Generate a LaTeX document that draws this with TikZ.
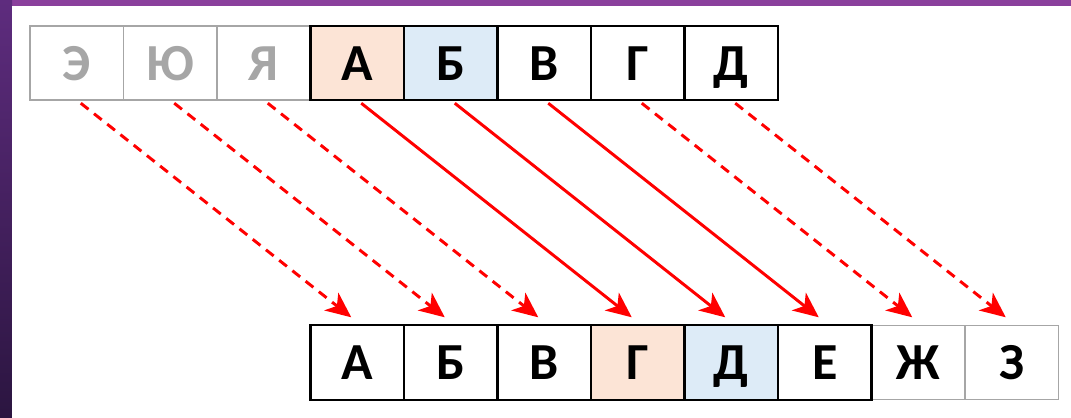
\documentclass[tikz,border=0pt]{standalone}
\usepackage{fontspec}
\setmainfont{Carlito}
\usetikzlibrary{arrows.meta}
\definecolor{cellpeach}{HTML}{FCE4D6}
\definecolor{cellblue}{HTML}{DDEBF7}
\definecolor{cellgray}{HTML}{A6A6A6}
\definecolor{bandtop}{HTML}{8A409C}
\definecolor{bandlefttop}{HTML}{5E2C7E}
\definecolor{bandleftbot}{HTML}{2B1540}

\begin{document}
\begin{tikzpicture}[
    cell/.style={draw=black, line width=1.5pt, minimum width=2.3375cm, minimum height=1.86cm,
                 inner sep=0pt, outer sep=0pt, text height=0.87cm, text depth=0pt,
                 font=\fontsize{37}{37}\selectfont\bfseries, fill=white},
    ghostcell/.style={cell, draw=cellgray, line width=1.1pt},
    shiftarrow/.style={-{Stealth[length=18pt, width=16pt, inset=5pt]}, draw=red, line width=2.1pt},
    wraparrow/.style={shiftarrow, dash pattern=on 7pt off 5pt}
]

%--------
% BACKGROUND: purple frame on top and left
%--------
\fill[bandtop] (0,0) rectangle (26.775,10.45);
\shade[top color=bandlefttop, bottom color=bandleftbot] (0,0) rectangle (0.3,10.45);
\fill[white] (0.3,0) rectangle (26.775,10.3);

%--------
% TOP ROW: source alphabet
%--------
\node[ghostcell, text=cellgray] (t1) at ( 1.919, 8.875) {Э};
\node[ghostcell, text=cellgray] (t2) at ( 4.256, 8.875) {Ю};
\node[ghostcell, text=cellgray] (t3) at ( 6.594, 8.875) {Я};
\node[cell, fill=cellpeach]     (t4) at ( 8.931, 8.875) {А};
\node[cell, fill=cellblue]      (t5) at (11.269, 8.875) {Б};
\node[cell]                     (t6) at (13.606, 8.875) {В};
\node[cell]                     (t7) at (15.944, 8.875) {Г};
\node[cell]                     (t8) at (18.281, 8.875) {Д};

%--------
% BOTTOM ROW: shifted alphabet (3 cells to the right)
%--------
\node[ghostcell]            (b7) at (22.956, 1.3875) {Ж};
\node[ghostcell]            (b8) at (25.294, 1.3875) {З};
\node[cell]                 (b1) at ( 8.931, 1.3875) {А};
\node[cell]                 (b2) at (11.269, 1.3875) {Б};
\node[cell]                 (b3) at (13.606, 1.3875) {В};
\node[cell, fill=cellpeach] (b4) at (15.944, 1.3875) {Г};
\node[cell, fill=cellblue]  (b5) at (18.281, 1.3875) {Д};
\node[cell]                 (b6) at (20.619, 1.3875) {Е};

%--------
% SHIFT ARROWS (solid inside the row, dashed for wrap-around)
%--------
\draw[wraparrow]  ([xshift=0.1cm, yshift=-0.075cm]t1.south) -- ([xshift=-0.15cm, yshift=0.2cm]b1.north);
\draw[wraparrow]  ([xshift=0.1cm, yshift=-0.075cm]t2.south) -- ([xshift=-0.15cm, yshift=0.2cm]b2.north);
\draw[wraparrow]  ([xshift=0.1cm, yshift=-0.075cm]t3.south) -- ([xshift=-0.15cm, yshift=0.2cm]b3.north);
\draw[shiftarrow] ([xshift=0.1cm, yshift=-0.075cm]t4.south) -- ([xshift=-0.15cm, yshift=0.2cm]b4.north);
\draw[shiftarrow] ([xshift=0.1cm, yshift=-0.075cm]t5.south) -- ([xshift=-0.15cm, yshift=0.2cm]b5.north);
\draw[shiftarrow] ([xshift=0.1cm, yshift=-0.075cm]t6.south) -- ([xshift=-0.15cm, yshift=0.2cm]b6.north);
\draw[wraparrow]  ([xshift=0.1cm, yshift=-0.075cm]t7.south) -- ([xshift=-0.15cm, yshift=0.2cm]b7.north);
\draw[wraparrow]  ([xshift=0.1cm, yshift=-0.075cm]t8.south) -- ([xshift=-0.15cm, yshift=0.2cm]b8.north);

\end{tikzpicture}
\end{document}
